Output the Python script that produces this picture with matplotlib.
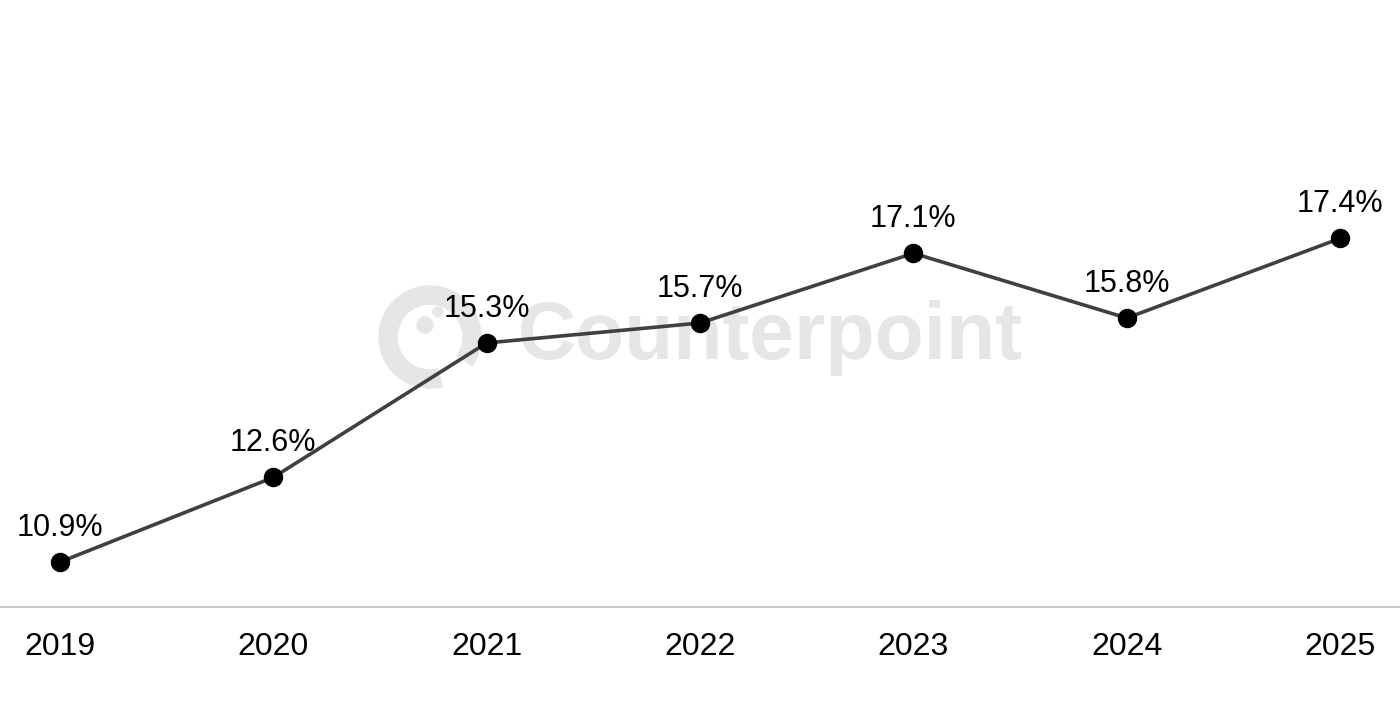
import matplotlib.pyplot as plt
from matplotlib.patches import Circle, Arc

plt.rcParams['font.family'] = ['Liberation Sans', 'DejaVu Sans']

YEARS = ['2019', '2020', '2021', '2022', '2023', '2024', '2025']
SHARE = [10.9, 12.6, 15.3, 15.7, 17.1, 15.8, 17.4]   # %

WM = '#e6e6e6'   # watermark grey


def main():
    fig = plt.figure(figsize=(14, 7.08), dpi=100)

    # watermark layer, in pixel units (behind the chart)
    bg = fig.add_axes([0, 0, 1, 1])
    bg.set_xlim(0, 1400)
    bg.set_ylim(708, 0)
    bg.axis('off')
    bg.add_patch(Arc((430, 337), 84, 84, theta1=75, theta2=395,
                     ec=WM, lw=14))
    bg.add_patch(Circle((425, 325), 8, color=WM))
    bg.add_patch(Circle((438, 312), 5, color=WM))
    bg.text(518, 338, 'Counterpoint', fontsize=58, fontweight='bold',
            color=WM, ha='left', va='center')

    ax = fig.add_axes([0, 0.1427, 1, 0.8443])
    ax.set_facecolor('none')

    x = range(len(YEARS))
    ax.plot(x, SHARE, '-', color='#404040', lw=2.6, zorder=3)
    ax.plot(x, SHARE, 'o', color='black', ms=13, zorder=4)

    for xi, v in zip(x, SHARE):
        ax.annotate(f'{v:.1f}%', (xi, v), xytext=(0, 19),
                    textcoords='offset points', ha='center', va='baseline',
                    fontsize=22, color='black', zorder=5)

    ax.set_xlim(-0.28, 6.28)
    ax.set_ylim(10, 22)
    ax.set_xticks(list(x))
    ax.set_xticklabels(YEARS, fontsize=23)
    ax.set_yticks([])
    ax.tick_params(axis='x', length=0, pad=18)
    for s in ['top', 'right', 'left']:
        ax.spines[s].set_visible(False)
    ax.spines['bottom'].set_color('#bfbfbf')
    ax.spines['bottom'].set_linewidth(1.2)

    fig.savefig('out.png', dpi=100, facecolor='white')


if __name__ == '__main__':
    main()
